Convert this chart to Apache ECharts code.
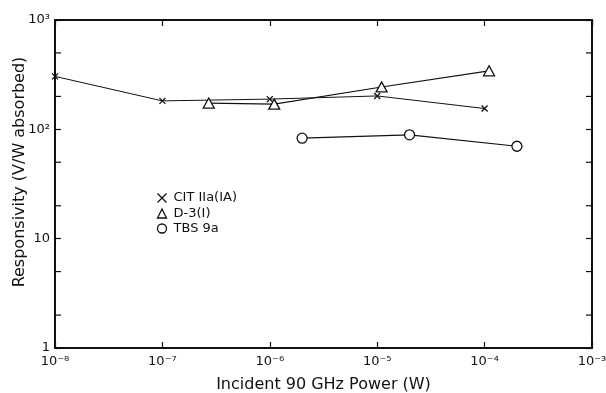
<!DOCTYPE html>
<html>
<head>
<meta charset="utf-8">
<script src="https://cdn.jsdelivr.net/npm/echarts@6/dist/echarts.min.js"></script>
<style>
  html, body { margin: 0; padding: 0; background: #fff; }
  #chart { width: 606px; height: 393px; }
</style>
</head>
<body>
<div id="chart"></div>
<script>
// Responsivity of three bolometers vs incident 90 GHz power (log-log)
const citPower = [1e-8, 1e-7, 1e-6, 1e-5, 1e-4];
const citResp  = [305, 182, 189, 202, 155];

const d3Power = [2.7e-7, 1.1e-6, 1.1e-5, 1.1e-4];
const d3Resp  = [174, 170, 244, 343];

const tbsPower = [2e-6, 2e-5, 2e-4];
const tbsResp  = [83, 89, 70];

const seriesNames = ['CIT IIa(IA)', 'D-3(I)', 'TBS 9a'];

// decade tick labels
const xTickLabels = { '-8': '10⁻⁸', '-7': '10⁻⁷', '-6': '10⁻⁶', '-5': '10⁻⁵', '-4': '10⁻⁴', '-3': '10⁻³' };
const yTickLabels = { '0': '1', '1': '10', '2': '10²', '3': '10³' };

// intermediate ticks at 2 and 5 in each decade on the vertical axes
const yMinorTicks = [2, 5, 20, 50, 200, 500];

const X_MIN = 1e-8, X_MAX = 1e-3, Y_MIN = 1, Y_MAX = 1000;

const font = 'DejaVu Sans';
const ink = '#111';

function pairs(xs, ys) { return xs.map((x, i) => [x, ys[i]]); }

const crossPath = 'path://M0,0L10,10M10,0L0,10';

const chart = echarts.init(document.getElementById('chart'), null, { renderer: 'canvas' });

const axisCommon = {
  type: 'log',
  logBase: 10,
  axisLine: { show: true, onZero: false, lineStyle: { color: ink, width: 2 } },
  axisTick: { show: true, inside: true, length: 6, lineStyle: { color: ink, width: 1.2 } },
  splitLine: { show: false },
  minorTick: { show: false }
};

chart.setOption({
  animation: false,
  backgroundColor: '#fff',
  textStyle: { fontFamily: font, color: ink },
  grid: { left: 55, right: 14, top: 20, bottom: 45, containLabel: false, outerBoundsMode: 'none' },
  xAxis: [
    Object.assign({}, axisCommon, {
      position: 'bottom',
      min: X_MIN, max: X_MAX,
      name: 'Incident 90 GHz Power (W)',
      nameLocation: 'middle',
      nameGap: 29,
      nameMoveOverlap: false,
      nameTextStyle: { fontFamily: font, fontSize: 16, color: ink },
      axisLabel: {
        fontFamily: font, fontSize: 13, color: ink, margin: 7,
        formatter: v => xTickLabels[String(Math.round(Math.log10(v)))] || ''
      }
    }),
    Object.assign({}, axisCommon, {
      position: 'top',
      min: X_MIN, max: X_MAX,
      axisLabel: { show: false }
    })
  ],
  yAxis: [
    Object.assign({}, axisCommon, {
      position: 'left',
      min: Y_MIN, max: Y_MAX,
      name: 'Responsivity (V/W absorbed)',
      nameLocation: 'middle',
      nameGap: 27,
      nameMoveOverlap: false,
      nameTextStyle: { fontFamily: font, fontSize: 16, color: ink, padding: [0, 0, 0, 24] },
      axisLabel: {
        fontFamily: font, fontSize: 13, color: ink, margin: 5,
        formatter: v => yTickLabels[String(Math.round(Math.log10(v)))] || ''
      }
    }),
    Object.assign({}, axisCommon, {
      position: 'right',
      min: Y_MIN, max: Y_MAX,
      axisLabel: { show: false }
    })
  ],
  legend: {
    orient: 'vertical',
    left: 150,
    top: 186,
    itemWidth: 9,
    itemHeight: 9,
    itemGap: 2,
    textStyle: { fontFamily: font, fontSize: 13, color: ink, padding: [0, 0, 0, 2] },
    data: [
      { name: seriesNames[0], icon: crossPath, itemStyle: { color: 'none', borderColor: ink, borderWidth: 1.3 } },
      { name: seriesNames[1], icon: 'triangle', itemStyle: { color: '#fff', borderColor: ink, borderWidth: 1.3 } },
      { name: seriesNames[2], icon: 'circle', itemStyle: { color: '#fff', borderColor: ink, borderWidth: 1.3 } }
    ]
  },
  series: [
    {
      name: seriesNames[0],
      type: 'line',
      data: pairs(citPower, citResp),
      symbol: crossPath,
      symbolSize: 6,
      lineStyle: { color: ink, width: 1 },
      itemStyle: { color: 'none', borderColor: ink, borderWidth: 1.3 },
      z: 3
    },
    {
      name: seriesNames[1],
      type: 'line',
      data: pairs(d3Power, d3Resp),
      symbol: 'triangle',
      symbolSize: [11, 10],
      lineStyle: { color: ink, width: 1.2 },
      itemStyle: { color: '#fff', borderColor: ink, borderWidth: 1.3 },
      z: 3
    },
    {
      name: seriesNames[2],
      type: 'line',
      data: pairs(tbsPower, tbsResp),
      symbol: 'circle',
      symbolSize: 10,
      lineStyle: { color: ink, width: 1.2 },
      itemStyle: { color: '#fff', borderColor: ink, borderWidth: 1.3 },
      z: 3
    },
    {
      // 2 and 5 ticks on left and right frame edges
      type: 'custom',
      silent: true,
      data: yMinorTicks.map(v => [X_MIN, v]),
      renderItem: (params, api) => {
        const v = api.value(1);
        const l = api.coord([X_MIN, v]);
        const r = api.coord([X_MAX, v]);
        const style = { stroke: ink, lineWidth: 1.2 };
        return {
          type: 'group',
          children: [
            { type: 'line', shape: { x1: l[0], y1: l[1], x2: l[0] + 6, y2: l[1] }, style },
            { type: 'line', shape: { x1: r[0] - 6, y1: r[1], x2: r[0], y2: r[1] }, style }
          ]
        };
      },
      z: 2
    }
  ]
});
</script>
</body>
</html>
